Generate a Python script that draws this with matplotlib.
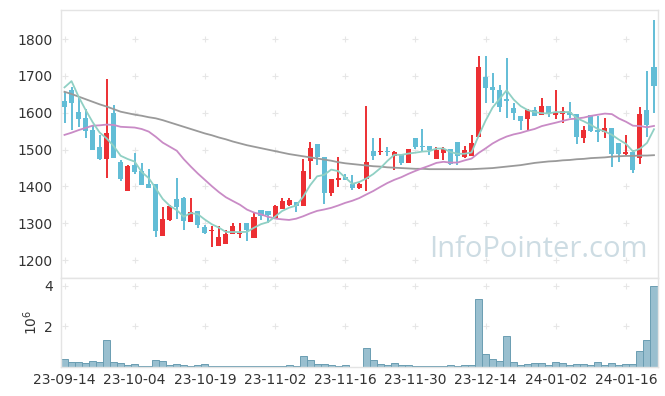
import numpy as np
import matplotlib
matplotlib.use("Agg")
import matplotlib.pyplot as plt

# ---------------- data ----------------
opens = [1632, 1662, 1601, 1585, 1553, 1506, 1475, 1600, 1466, 1388,
         1458, 1442, 1407, 1407, 1265, 1309, 1365, 1370, 1304, 1333,
         1289, 1278, 1239, 1243, 1271, 1270, 1300, 1259, 1336, 1333,
         1311, 1340, 1349, 1358, 1348, 1470, 1515, 1479, 1383, 1417,
         1425, 1406, 1397, 1419, 1496, 1493, 1497, 1484, 1485, 1464,
         1531, 1510, 1510, 1475, 1492, 1501, 1520, 1479, 1484, 1535,
         1696, 1671, 1662, 1637, 1612, 1591, 1584, 1608, 1593, 1618,
         1594, 1598, 1603, 1596, 1532, 1593, 1553, 1549, 1560, 1517,
         1488, 1493, 1476, 1608, 1723]
highs = [1657, 1671, 1644, 1609, 1567, 1540, 1691, 1621, 1472, 1457,
         1492, 1464, 1447, 1407, 1343, 1349, 1422, 1372, 1369, 1333,
         1295, 1292, 1292, 1283, 1300, 1300, 1300, 1327, 1336, 1333,
         1349, 1369, 1368, 1358, 1474, 1522, 1515, 1479, 1419, 1479,
         1435, 1431, 1410, 1618, 1531, 1531, 1508, 1496, 1485, 1503,
         1531, 1555, 1510, 1506, 1508, 1501, 1520, 1510, 1539, 1753,
         1753, 1708, 1676, 1749, 1626, 1591, 1609, 1617, 1639, 1618,
         1662, 1615, 1629, 1596, 1564, 1594, 1591, 1585, 1560, 1517,
         1540, 1499, 1617, 1714, 1852]
lows = [1572, 1553, 1562, 1531, 1499, 1472, 1422, 1477, 1415, 1388,
        1434, 1404, 1396, 1263, 1265, 1307, 1311, 1283, 1304, 1286,
        1272, 1236, 1239, 1243, 1270, 1259, 1253, 1259, 1308, 1301,
        1311, 1338, 1347, 1330, 1348, 1419, 1459, 1352, 1375, 1399,
        1417, 1390, 1392, 1387, 1472, 1485, 1483, 1446, 1458, 1463,
        1503, 1494, 1485, 1475, 1472, 1459, 1459, 1477, 1484, 1535,
        1626, 1626, 1603, 1585, 1580, 1552, 1550, 1590, 1593, 1588,
        1582, 1572, 1585, 1516, 1517, 1549, 1522, 1531, 1452, 1467,
        1485, 1436, 1461, 1533, 1599]
closes = [1617, 1626, 1582, 1551, 1499, 1475, 1546, 1478, 1419, 1455,
          1440, 1404, 1396, 1280, 1311, 1347, 1345, 1307, 1330, 1295,
          1274, 1281, 1262, 1271, 1294, 1274, 1283, 1318, 1320, 1322,
          1347, 1360, 1363, 1348, 1442, 1504, 1481, 1383, 1419, 1422,
          1417, 1395, 1408, 1466, 1483, 1496, 1493, 1493, 1464, 1501,
          1508, 1508, 1499, 1499, 1501, 1461, 1484, 1499, 1517, 1725,
          1668, 1662, 1617, 1633, 1600, 1579, 1608, 1590, 1618, 1596,
          1599, 1605, 1594, 1533, 1553, 1551, 1549, 1560, 1488, 1488,
          1494, 1446, 1596, 1567, 1674]
volumes = [390000, 240000, 240000, 200000, 290000, 240000, 1320000, 240000, 200000, 110000,
           150000, 50000, 50000, 340000, 290000, 110000, 150000, 110000, 60000, 110000,
           150000, 50000, 50000, 50000, 50000, 50000, 50000, 50000, 50000, 50000,
           50000, 50000, 90000, 50000, 550000, 340000, 150000, 150000, 100000, 60000,
           100000, 10000, 20000, 930000, 340000, 150000, 100000, 200000, 100000, 100000,
           50000, 50000, 50000, 50000, 50000, 90000, 50000, 100000, 100000, 3320000,
           640000, 370000, 300000, 1510000, 250000, 100000, 150000, 200000, 200000, 100000,
           250000, 200000, 100000, 150000, 150000, 100000, 250000, 100000, 200000, 100000,
           150000, 150000, 780000, 1320000, 3970000]
# moving-average values at the first bars (earlier history not shown in the chart)
ma5_head = [1669, 1686, 1644, 1608]
ma20_head = [1540, 1546, 1553, 1559, 1565, 1566, 1568, 1567, 1562, 1561,
             1560, 1556, 1549, 1535, 1519, 1508, 1497, 1474, 1454]
# long moving average (grey line)
ma_long = [1657, 1651, 1644, 1637, 1630, 1623, 1617, 1610, 1603, 1599,
           1595, 1592, 1588, 1585, 1580, 1574, 1568, 1562, 1556, 1550,
           1544, 1539, 1533, 1528, 1522, 1517, 1512, 1508, 1504, 1500,
           1496, 1492, 1488, 1485, 1482, 1479, 1476, 1473, 1470, 1466,
           1463, 1461, 1459, 1457, 1455, 1454, 1452, 1451, 1450, 1449,
           1448, 1448, 1447, 1447, 1447, 1447, 1447, 1447, 1447, 1448,
           1449, 1450, 1452, 1454, 1456, 1458, 1461, 1464, 1466, 1468,
           1469, 1471, 1472, 1474, 1475, 1477, 1478, 1479, 1481, 1482,
           1483, 1483, 1484, 1484, 1485]
tick_labels = ['23-09-14', '23-10-04', '23-10-19', '23-11-02', '23-11-16',
               '23-11-30', '23-12-14', '24-01-02', '24-01-16']
price_ticks = [1200, 1300, 1400, 1500, 1600, 1700, 1800]
vol_ticks = [2, 4]

# ---------------- derived ----------------
o = np.array(opens, float); h = np.array(highs, float)
l = np.array(lows, float); c = np.array(closes, float)
v = np.array(volumes, float) / 1e6
n = len(c)
x = np.arange(n)

def rolling(arr, w, head):
    out = np.empty(len(arr))
    out[:len(head)] = head
    for i in range(len(head), len(arr)):
        out[i] = arr[i - w + 1:i + 1].mean()
    return out

ma5 = rolling(c, 5, ma5_head)
ma20 = rolling(c, 20, ma20_head)

UP = '#ec2f33'
DOWN = '#62bdd6'
FRAME = '#e4e4e4'
TXT = '#333333'

plt.rcParams['font.family'] = ['DejaVu Sans']
W, H = 665, 396
fig = plt.figure(figsize=(W / 100, H / 100), dpi=100)
fig.patch.set_facecolor('white')

def px_axes(x0, y0, x1, y1):
    return fig.add_axes([x0 / W, 1 - y1 / H, (x1 - x0) / W, (y1 - y0) / H])

ax = px_axes(61, 10, 657.5, 277.5)
axv = px_axes(61, 277.5, 657.5, 367)

xtick_pos = np.arange(0, n, 10)[:len(tick_labels)]

for a in (ax, axv):
    a.set_xlim(-0.5, n - 0.5)
    for s in a.spines.values():
        s.set_color(FRAME)
        s.set_linewidth(1.0)
    a.tick_params(length=0, colors=TXT, labelsize=10)

# price panel
ax.set_ylim(1153, 1879)
gx, gy = np.meshgrid(xtick_pos, price_ticks)
ax.scatter(gx.ravel(), gy.ravel(), marker='+', s=25, color='#e6e6e6', linewidths=0.8, zorder=0)

colors = np.where(c >= o, UP, DOWN)
ax.vlines(x, l, h, colors=colors, linewidth=1.4, zorder=2)
body_bottom = np.minimum(o, c)
body_h = np.maximum(np.abs(c - o), 1.2)
ax.bar(x, body_h, bottom=body_bottom, width=0.72, color=colors, linewidth=0, zorder=3)

ax.plot(x, ma_long, color='#9a9a9a', linewidth=1.3, zorder=4)
ax.plot(x, ma20, color='#c98bc6', linewidth=1.3, zorder=4)
ax.plot(x, ma5, color='#90d0c4', linewidth=1.3, zorder=4)

ax.set_yticks(price_ticks)
ax.set_yticklabels([str(t) for t in price_ticks])
ax.set_xticks([])
ax.tick_params(axis='y', pad=6)

ax.text(0.983, 0.05, 'InfoPointer.com', transform=ax.transAxes, ha='right', va='bottom',
        fontsize=21, color='#cddce3', family=['Open Sans', 'DejaVu Sans'], zorder=1)

# volume panel
axv.set_ylim(0, 4.4)
gx2, gy2 = np.meshgrid(xtick_pos, vol_ticks)
axv.scatter(gx2.ravel(), gy2.ravel(), marker='+', s=25, color='#e6e6e6', linewidths=0.8, zorder=0)
axv.bar(x, v, width=1.0, color='#99bfcf', edgecolor='#6a9db2', linewidth=0.7, zorder=2)
axv.set_yticks(vol_ticks)
axv.set_yticklabels([str(t) for t in vol_ticks])
axv.set_xticks(xtick_pos)
axv.set_xticklabels(tick_labels)
axv.tick_params(axis='y', pad=6)
axv.tick_params(axis='x', pad=4)
axv.set_ylabel(r'$10^6$', color=TXT, fontsize=10, labelpad=3)

fig.savefig('out.png', dpi=100)
